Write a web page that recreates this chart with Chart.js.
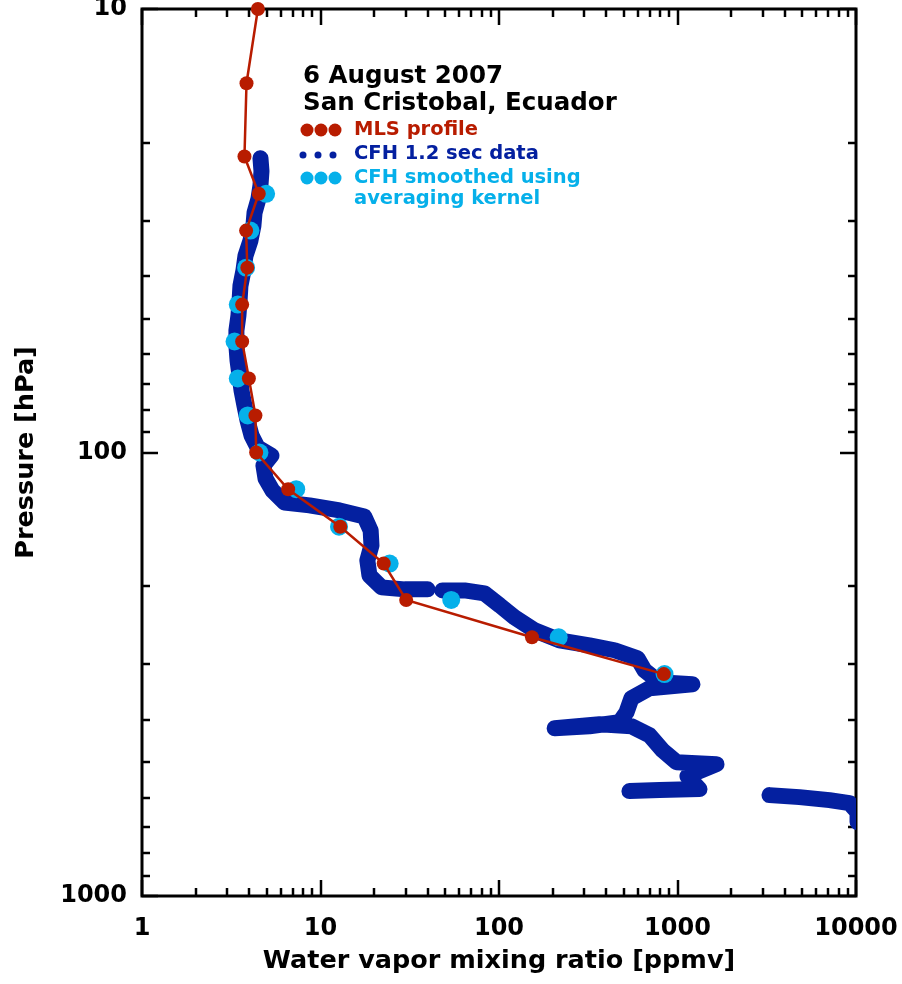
<!DOCTYPE html>
<html>
<head>
<meta charset="utf-8">
<title>Water vapor profile - San Cristobal</title>
<script src="https://cdn.jsdelivr.net/npm/chart.js@4.4.1/dist/chart.umd.min.js"></script>
<style>
  html, body { margin: 0; padding: 0; background: #fff; }
  #wrap { position: relative; width: 902px; height: 984px; }
</style>
</head>
<body>
<div id="wrap"><canvas id="profileChart"></canvas></div>
<script>
// MLS profile: retrieval levels (hPa) and water vapor (ppmv)
const mlsPressure = [10, 14.7, 21.5, 26.1, 31.6, 38.3, 46.4, 56.2, 68.1, 82.5, 100, 121, 147, 178, 215, 261, 316];
const mlsWater = [4.46, 3.85, 3.75, 4.51, 3.83, 3.89, 3.64, 3.64, 3.97, 4.32, 4.36, 6.59, 12.9, 22.6, 30.2, 153, 838];

// CFH smoothed using the averaging kernel
const smoothPressure = [26.1, 31.6, 38.3, 46.4, 56.2, 68.1, 82.5, 100, 121, 147, 178, 215, 261, 316];
const smoothWater = [4.96, 4.05, 3.83, 3.44, 3.30, 3.44, 3.91, 4.55, 7.31, 12.7, 24.4, 54.0, 216, 846];

// CFH 1.2 sec data (null = gap in the record)
const cfhPressure = [21.7, 23.2, 25.0, 26.8, 28.8, 30.8, 33.3, 36.0, 38.9, 42.1, 45.5, 49.1, 53.1, 57.4, 62.1,
  67.1, 72.5, 78.4, 84.7, 91.6, 97.4, 101.6, 107.0, 114.4, 121.8, 129.6, 131.6, 135.1, 139.4, 149.9, 162.0,
  175.1, 189.3, 201.4, 203.5, 203.5, null, 204.6, 204.6, 207.8, 221.1, 235.3, 251.7, 265.1, 272.1, 279.2,
  291.1, 309.8, 329.6, 333.1, 340.1, 358.2, 385.2, 405.7, 414.2, 418.5, 409.9, 414.2, 434.0, 469.1, 499.2,
  504.4, 536.6, 574.1, 577.1, 580.1, null, 592.3, 598.5, 607.9, 617.4, 646.9, 681.3];
const cfhWater = [4.61, 4.67, 4.61, 4.49, 4.27, 4.21, 4.05, 3.80, 3.70, 3.56, 3.52, 3.47, 3.38, 3.38, 3.43,
  3.52, 3.61, 3.75, 3.90, 4.11, 4.44, 5.31, 4.79, 4.92, 5.38, 6.29, 8.68, 12.8, 17.6, 19.1, 19.3,
  18.3, 18.8, 22.0, 29.6, 39.8, null, 48.2, 64.1, 82.9, 101, 122, 158, 218, 321, 444,
  597, 653, 793, 1213, 697, 552, 518, 473, 321, 205, 366, 552, 697, 824, 987,
  1654, 1137, 1328, 793, 538, null, 3277, 4825, 7104, 9196, 10200, 10200];

// axis ticks
const xTickLabels = [1, 10, 100, 1000, 10000];
const yTickLabels = [10, 100, 1000];

const RED = '#b81c00';
const NAVY = '#0420a0';
const CYAN = '#05b0ea';

function toPoints(xs, ys) {
  return xs.map((v, i) => ({ x: v, y: ys[i] }));
}

// minor tick values 2..9 in every decade
function minorTicks(majors) {
  const out = [];
  for (let i = 0; i < majors.length - 1; i++) {
    for (let k = 2; k <= 9; k++) out.push(majors[i] * k);
  }
  return out;
}

Chart.defaults.font.family = "'DejaVu Sans', sans-serif";
Chart.defaults.color = '#000';

// IDL style box with inward ticks on all four sides
const boxAxes = {
  id: 'boxAxes',
  beforeDatasetsDraw(chart) {
    const { ctx, chartArea: a, scales: { x, y } } = chart;
    ctx.save();
    ctx.strokeStyle = '#000';
    ctx.lineWidth = 2.5;
    ctx.lineCap = 'butt';
    const seg = (x1, y1, x2, y2) => {
      ctx.beginPath(); ctx.moveTo(x1, y1); ctx.lineTo(x2, y2); ctx.stroke();
    };
    const xTick = (v, len) => {
      const px = Math.round(x.getPixelForValue(v));
      seg(px, a.bottom, px, a.bottom - len);
      seg(px, a.top, px, a.top + len);
    };
    const yTick = (v, len) => {
      const py = Math.round(y.getPixelForValue(v));
      seg(a.left, py, a.left + len, py);
      seg(a.right, py, a.right - len, py);
    };
    minorTicks(xTickLabels).forEach(v => xTick(v, 8));
    xTickLabels.forEach(v => xTick(v, 16));
    minorTicks(yTickLabels).forEach(v => yTick(v, 8));
    yTickLabels.forEach(v => yTick(v, 16));
    ctx.lineWidth = 3;
    ctx.strokeRect(a.left, a.top, a.right - a.left, a.bottom - a.top);
    ctx.restore();
  }
};

// date / site text and the key
const keyBlock = {
  id: 'keyBlock',
  afterDraw(chart) {
    const ctx = chart.ctx;
    ctx.save();
    ctx.textBaseline = 'middle';
    ctx.textAlign = 'left';
    ctx.font = "bold 24.5px 'DejaVu Sans', sans-serif";
    ctx.fillStyle = '#000';
    ctx.fillText('6 August 2007', 303, 77);
    ctx.fillText('San Cristobal, Ecuador', 303, 104);

    const dots = (cy, r, color) => {
      ctx.fillStyle = color;
      [307, 321, 335].forEach(cx => {
        ctx.beginPath(); ctx.arc(cx, cy, r, 0, Math.PI * 2); ctx.fill();
      });
    };
    ctx.font = "bold 19.5px 'DejaVu Sans', sans-serif";
    dots(130, 6.5, RED);
    ctx.fillStyle = RED;
    ctx.fillText('MLS profile', 354, 130);

    ctx.fillStyle = NAVY;
    [303, 318, 333].forEach(cx => {
      ctx.beginPath(); ctx.arc(cx, 155, 3.5, 0, Math.PI * 2); ctx.fill();
    });
    ctx.fillText('CFH 1.2 sec data', 354, 154);

    dots(178, 6.5, CYAN);
    ctx.fillStyle = CYAN;
    ctx.fillText('CFH smoothed using', 354, 178);
    ctx.fillText('averaging kernel', 354, 199);
    ctx.restore();
  }
};

const ctx = document.getElementById('profileChart').getContext('2d');
new Chart(ctx, {
  type: 'scatter',
  data: {
    datasets: [
      {
        label: 'MLS profile',
        data: toPoints(mlsWater, mlsPressure),
        showLine: true,
        borderColor: RED,
        backgroundColor: RED,
        borderWidth: 2.5,
        pointRadius: 7,
        pointBorderWidth: 0,
        clip: false,
        order: 0
      },
      {
        label: 'CFH smoothed using averaging kernel',
        data: toPoints(smoothWater, smoothPressure),
        showLine: false,
        backgroundColor: CYAN,
        borderColor: CYAN,
        pointRadius: 9,
        pointBorderWidth: 0,
        order: 1
      },
      {
        label: 'CFH 1.2 sec data',
        data: toPoints(cfhWater, cfhPressure),
        showLine: true,
        spanGaps: false,
        borderColor: NAVY,
        backgroundColor: NAVY,
        borderWidth: 16,
        borderCapStyle: 'round',
        borderJoinStyle: 'round',
        pointRadius: 0,
        clip: 0,
        order: 2
      }
    ]
  },
  options: {
    responsive: true,
    maintainAspectRatio: false,
    animation: false,
    events: [],
    layout: { padding: { left: 0, right: 46, top: 8, bottom: 0 } },
    plugins: {
      legend: { display: false },
      tooltip: { enabled: false }
    },
    scales: {
      x: {
        type: 'logarithmic',
        position: 'bottom',
        min: 1,
        max: 10000,
        grid: { display: false, drawTicks: false },
        border: { display: false },
        ticks: {
          padding: 18,
          maxRotation: 0,
          autoSkip: false,
          font: { size: 24, weight: 'bold' },
          callback: v => String(v)
        },
        title: {
          display: true,
          text: 'Water vapor mixing ratio [ppmv]',
          font: { size: 25.5, weight: 'bold' },
          padding: { top: 0, bottom: 7 }
        },
        afterBuildTicks: s => { s.ticks = xTickLabels.map(v => ({ value: v })); },
        afterFit: s => { s.height = 88; s.paddingLeft = 0; s.paddingRight = 0; }
      },
      y: {
        type: 'logarithmic',
        position: 'left',
        reverse: true,
        min: 10,
        max: 1000,
        grid: { display: false, drawTicks: false },
        border: { display: false },
        ticks: {
          padding: 15,
          autoSkip: false,
          font: { size: 24, weight: 'bold' },
          callback: v => String(v)
        },
        title: {
          display: true,
          text: 'Pressure [hPa]',
          font: { size: 25.5, weight: 'bold' },
          padding: { top: 11, bottom: 0 }
        },
        afterBuildTicks: s => { s.ticks = yTickLabels.map(v => ({ value: v })); },
        afterFit: s => { s.width = 142; s.paddingTop = 0; s.paddingBottom = 0; }
      }
    }
  },
  plugins: [boxAxes, keyBlock]
});
</script>
</body>
</html>
